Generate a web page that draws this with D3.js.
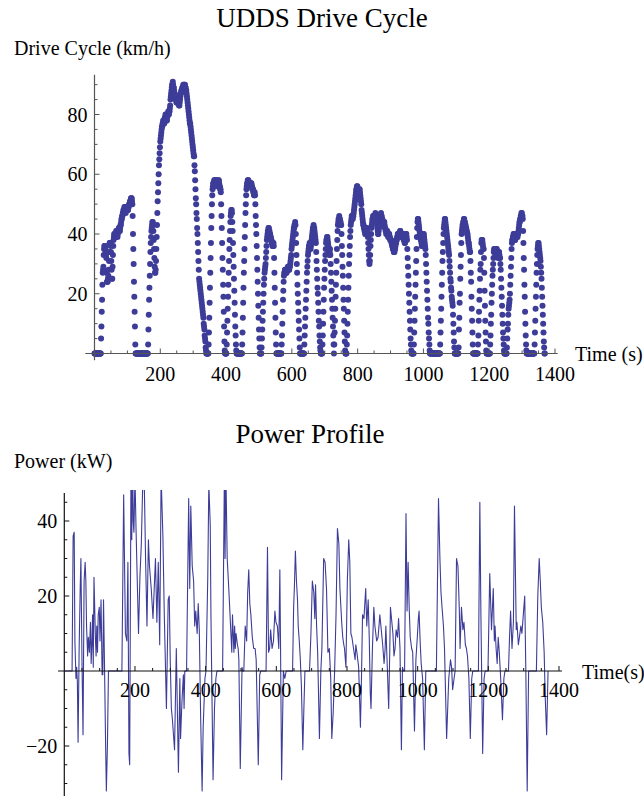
<!DOCTYPE html>
<html>
<head>
<meta charset="UTF-8">
<script src="https://cdn.jsdelivr.net/npm/d3@7"></script>
<style>
  body { margin: 0; background: #fff; }
  text { font-family: "Liberation Serif", "DejaVu Serif", serif; fill: #000; }
</style>
</head>
<body>
<div id="chart"></div>
<script>
// UDDS speed, one value per second (km/h), t = 0 .. 1369
var speedKmh = [
  0,0,0,0,0,0,0,0,0,0,0,0,0,0,0,0,0,0,0,0,
  5,9,14,18,23,27,28,29,33,35,36,36, 36,35,34,33,32,27,24, 24,24,25,26,28,31,34,37,
  37,37,36,34,31,28,25, 25,29,33,36,
  38,39,40,40,40,39,39,40,41,41,40,40,39,40,41,41,42,42,41,41,42,
  43,43,44,45,45,46,46,47,47,48,
  48,48,49,49,48,48,47,48,48,49,49,49,48,48,49,49,50,50,50,51,
  51,51,52,52,52,51,50, 46,40,35,30,24,19,14,9,3,
  0,0,0,0,0,0,0,0,0,0,0,0,0,0,0,0,0,0,0,0,0,0,0,0,0,0,0,0,0,0,0,0,0,0,0,0,0,0,
  3,8,13,18,22,26,30,34, 37,39,41,42,43,44,44,43,41,38, 35,32,29,27,27,28,
  31,35,39,43,47,51,54,57,60,63,65,67,69,71,72,73,74,75,76,
  76,77,77,78,78,77,77,78,79,79,80,80,79,78,78,79,80,80,81,80,80,81,81,
  82,83,85,86,87,88,89,90,90,91,
  90,89,89,88,87,87,86,86,85,85,84,84,84,85,85,86,85,84,83,83,84,85,86,87,
  87,88,88,88,89,89,89,90,90,89,89,90,90,89,89,88,
  88,87,86,85,84,83,82,81,80,79,78,77,77,76,75,74,73,72,71,70,69,68,67,66,
  66,63,61,58,55,52,50,47,45,42,40,37,34,31,28,25,
  24,23,22,21,20,19,18,17,16,15,14,13,12,10,9,8,6,5,4,2,1,0,
  0,0,0,0,0,0,
  3,7,12,17,22,27,32,37,42,46,50,53,55,56,57,57,
  57,58,58,57,57,58,58,58,57,57,56,56,57,57,58,58,57,56,56,55,55,54,
  50,46,42,37,32,28,23,19,14,9,4,1,0,
  0,0,0,0,
  3,7,11,15,19,23,27,31,35,38,41,44,46, 47,48,48,47, 44,41,37,33,29,25,21,17,13,9,6,3,1,0,
  0,0,0,0,0,0,0,0,0,0,0,0,0,0,0,0,
  3,7,12,17,22,27,31,35,39,43,47,50,53,55,56,
  57,57,58,58,58,57,57,57,56,56,56,57,57,57,56,56,55,55,55,54,54,53,53,54,53,
  50,46,43,40,36,32,28,24,20,16,12,8,5,2,0,
  0,0,0,0,
  2,5,8,11,14,17,20,23,25,27,28,29,30, 32,34,36,38,39,40,41,41,42,42,
  41,41,40,40,39,39,38,38,37,37,36,36,37,37,36, 32,27,22,17,12,7,3,0,
  0,0,0,0,0,0,0,0,0,0,0,0,0,0,0,
  3,6,10,14,18,21,24,26,27,
  27,28,28,28,27,27,27,28,28,28,29,29,28,28,28,29,29,30,
  31,32,33,35,36,37,38,39,40,41,42,42,43,43,44,
  43,40,37,33,30,27,23,20,17,14,11,8,5,2,0,
  0,0,0,0,0,0,0,0,0,0,0,0,
  3,6,9,12,15,18,21,24,27,29,31,33,34,35,36,
  36,37,37,36,35,36,37,38,39,40,41,42,42,43,42,42,41,40,39,38,37,
  34,31,28,25,22,20,17,14,11,9,6,4,2,1,0,
  0,0,0,0,
  3,6,10,14,18,22,25,28,31,33,35,37,38, 38,39,39,38,37,36,35,34,33,34,35,
  33,30,27,24,21,18,15,12,9,6,3,0,
  3,7,11,15,19,23,27,31,35,38,41,43, 44,45,45,46,45,45,44,44,43,43,
  40,36,33,29,26,22,18,15,11,7,4,1,
  0,0,0,0,
  3,6,10,14,18,22,26,30,33,36,39,41,43,44,45,46,
  46,45,45,46,46,47,48,49,50,51,52,53,54,55,55,56,56,55,
  55,55,54,54,55,55,54,53,52,51,50,48,47,46,45,
  44,43,43,42,42,41,41,40,40,41,41,42,42,41,40,39,37,35,33,31,30,31,33,36,38,40,42,43,44,45,
  45,46,46,46,45,45,46,46,47,46,46,45,44,43,42,41,40,40,41,42,43,44,45,46,46,47,46,46,45,45,
  44,44,43,43,44,44,43,42,42,41,41,40,40,41,41,40,40,39,39,40,40,39,39,38,38,
  38,38,37,37,36,36,35,35,35,34,34,34,35,35,36,37,37,38,38,39,39,40,40,40,39,39,40,40,41,41,
  40,40,39,39,40,40,40,39,39,38,38,38,37,37,38,39,40,40,39,38,
  35,32,29,26,23,20,17,14,11,8,5,3,1,0,
  0,0,0,0,0,0,
  3,7,11,15,19,23,27,31,35,39,42,44,
  45,45,44,43,42,41,40,40,39,38,38,37,36,36,37,38,39,40,40,39,38,37,36,35,
  33,30,27,24,21,18,15,12,10,7,5,3,1,0,
  0,0,0,0,0,0,0,0,0,0,0,0,0,0,0,0,0,0,0,0,0,0,0,0,0,0,0,0,0,0,
  3,7,11,15,19,23,27,31,34,37,40,42,
  43,44,45,45,44,43,42,41,40,39,38,37,36,35,34,33,
  31,29,27,25,24,22,21,19,18,17,16,13,10,7,4,2,0,
  0,0,0,0,0,0,0,0,0,0,0,
  2,8,12,17,20,25,29,33,37,40,
  41,42,43,43,44,44,45,45,44,44,43,43,42,42,41,41,40,40,39,38,37,37,36,35,34,34,
  31,27,24,19,15,11,7,3,0,
  0,0,0,0,0,0,0,0,0,0,0,0,0,0,
  3,6,11,14,18,21,25,28,30,34,37,38, 38,38,37,36,35,35, 32,27,21,16,11,7,4,1,0,
  0,0,0,0,0,0,0,0,0,0,
  3,6,10,13,17,20,23,26,28,30,32,34,
  35,35,34,34,33,33,34,35,35,34,33,33,32,33,34,34,33,32,32,
  30,28,25,22,19,16,13,10,7,5,3,1,0,
  0,0,0,0,0,0,0,
  2,5,8,10,13,15,16,17,18,20,23,26,29,32,35,
  37,38,38,39,39,40,40,39,39,38,38,39,39,40,40,40,39,39,40,40,41,42,43,44,
  44,45,45,46,46,47,47,46,46,45,
  41,37,32,28,23,19,14,10,6,3,1,0,
  0,0,0,0,0,0,0,0,0,0,0,0,0,0,0,0,0,0,0,0,0,0,0,
  3,7,11,15,19,23,27,30,33,35,36,37, 37,36,35,34,33,32,31,
  29,27,25,22,19,16,13,10,7,4,2,0,0
];

// power profile, vertices (time in s, power in kW)
var powerTime = [
  0,22,25,28,30,33,35,37,39,42,45,47,50,53,56,59,61,63,66,68,71,74,76,78,80,82,84,86,88,90,
  92,94,96,99,101,104,107,109,111,114,117,119,122,125,163,
  168,173,177,180,183,185,189,191,193,195,197,200,203,205,210,214,218,222,226,230,234,238,241,246,251,258,262,266,270,274,
  279,283,289,294,297,300,303,306,312,317,323,327,329,333,337,339,341,346,
  352,355,358,362,366,369,372,376,379,382,386,390,393,398,401,
  406,409,413,415,418,421,425,429,432,448,
  453,455,457,461,466,469,472,474,476,480,482,484,486,490,492,494,498,503,505,508,
  512,516,519,522,525,528,532,536,540,543,549,553,556,571,
  575,578,581,584,588,592,596,599,603,607,610,612,615,620,624,628,646,
  649,651,654,657,660,662,665,668,671,675,678,681,694,
  698,702,706,709,711,714,717,722,726,
  729,734,738,742,744,746,750,754,757,761,765,
  769,773,777,780,785,788,791,793,797,801,805,808,811,814,817,820,823,825,828,833,838,841,844,848,853,856,860,863,866,868,
  872,876,879,884,888,893,897,901,905,908,910,913,918,921,923,926,930,933,936,939,943,946,950,954,957,960,963,
  967,970,973,976,979,983,986,991,995,999,1002,1004,1007,1010,1014,1019,1023,1053,
  1059,1063,1066,1069,1073,1076,1082,1088,1093,1096,1099,1103,1106,
  1110,1114,1118,1120,1124,1128,1131,1135,1138,1141,1145,1149,1153,1156,1172,
  1176,1179,1184,1188,1191,1199,
  1204,1209,1214,1217,1219,1222,1225,1228,1231,1235,1240,1244,1247,1257,
  1260,1263,1267,1271,1274,1277,1279,1281,1285,1288,1292,1295,1299,1303,1306,1310,1314,1336,
  1340,1344,1347,1350,1354,1358,1361,1365,1369
];
var powerKw = [
  0,0,36,37,8,-2,1,-3,-19,6,22,30,3,-17,24,29,24,12,4,9,5,13,2,7,15,1,25,17,9,4,
  12,5,15,17,8,19,-1,-1,19,0,-20,-32,-20,0,0,
  47,10,8,29,-22,-25,60,35,62,40,37,52,38,30,10,25,34,50,52,30,12,35,28,22,14,30,13,29,7,52,
  36,15,-10,19,20,2,-10,-13,-21,6,-27,-2,-18,-8,-1,-10,0,0,
  46,22,44,28,24,12,16,10,18,11,-13,-32,-15,-2,0,
  25,50,39,15,-7,-29,-10,-2,0,0,
  52,30,55,30,21,15,9,5,15,5,12,6,10,7,6,3,-26,1,0,0,
  12,8,21,27,18,15,9,6,6,3,-25,-1,0,0,
  33,5,6,11,6,8,16,13,12,6,27,6,-29,0,-2,0,0,
  17,22,32,24,19,12,8,3,-4,-21,-10,0,0,
  10,24,21,14,23,12,5,-18,0,
  6,30,29,22,14,5,6,-2,-18,-11,0,
  15,38,34,22,13,9,7,6,1,24,35,29,10,9,7,5,3,7,5,1,-15,-2,15,14,22,12,19,9,-6,-10,
  6,17,12,8,9,15,11,7,2,6,12,4,-10,5,17,14,10,4,6,11,9,14,6,-21,1,0,0,
  42,16,29,17,9,6,5,-16,3,9,14,16,8,2,-2,-21,0,0,
  46,30,21,17,12,6,-18,-2,3,1,-5,-2,0,
  30,28,16,6,17,11,13,7,6,4,-2,-18,-2,0,0,
  45,15,-22,-2,0,0,
  26,11,22,8,12,6,2,9,5,-2,-13,-2,0,0,
  9,16,6,13,44,24,11,13,7,9,12,10,15,20,1,-32,0,0,
  20,30,24,17,13,5,-7,-17,0
];

var timeTicks = [200, 400, 600, 800, 1000, 1200, 1400];
var speedTicks = [20, 40, 60, 80];
var powerTicks = [-20, 20, 40];

var W = 644, H = 796;
var blue = "#3d3d99";

var svg = d3.select("#chart").append("svg")
    .attr("width", W)
    .attr("height", H);

// ---------- top panel: drive cycle ----------
var xTop = d3.scaleLinear().domain([0, 1400]).range([94.5, 555]);
var yTop = d3.scaleLinear().domain([0, 80]).range([353.5, 114.5]);
var gTop = svg.append("g");

gTop.append("text")
    .attr("x", 322).attr("y", 27)
    .attr("text-anchor", "middle")
    .attr("font-size", "27px")
    .text("UDDS Drive Cycle");

gTop.append("text")
    .attr("x", 14).attr("y", 55)
    .attr("font-size", "20px")
    .text("Drive Cycle (km/h)");

// data first, axes drawn on top
gTop.selectAll("circle")
    .data(speedKmh)
    .join("circle")
    .attr("cx", function(d, i) { return xTop(i); })
    .attr("cy", function(d) { return yTop(d); })
    .attr("r", 3)
    .attr("fill", blue);

var axisTop = "#555";
gTop.append("line")
    .attr("x1", xTop(-28)).attr("x2", xTop(1408))
    .attr("y1", yTop(0)).attr("y2", yTop(0))
    .attr("stroke", axisTop).attr("stroke-width", 1.2);
gTop.append("line")
    .attr("x1", xTop(0)).attr("x2", xTop(0))
    .attr("y1", yTop(-2.3)).attr("y2", yTop(93.3))
    .attr("stroke", axisTop).attr("stroke-width", 1.2);

gTop.selectAll("line.xt")
    .data(d3.range(50, 1401, 50))
    .join("line").attr("class", "xt")
    .attr("x1", function(d) { return xTop(d); })
    .attr("x2", function(d) { return xTop(d); })
    .attr("y1", yTop(0))
    .attr("y2", function(d) { return yTop(0) - (d % 200 == 0 ? 5 : 3); })
    .attr("stroke", axisTop);

gTop.selectAll("line.yt")
    .data(d3.range(5, 91, 5))
    .join("line").attr("class", "yt")
    .attr("x1", xTop(0))
    .attr("x2", function(d) { return xTop(0) + (d % 20 == 0 ? 5 : 3); })
    .attr("y1", function(d) { return yTop(d); })
    .attr("y2", function(d) { return yTop(d); })
    .attr("stroke", axisTop);

gTop.selectAll("text.xl")
    .data(timeTicks)
    .join("text").attr("class", "xl")
    .attr("x", function(d) { return xTop(d); })
    .attr("y", 381)
    .attr("text-anchor", "middle")
    .attr("font-size", "20px")
    .text(function(d) { return d; });

gTop.selectAll("text.yl")
    .data(speedTicks)
    .join("text").attr("class", "yl")
    .attr("x", xTop(0) - 7)
    .attr("y", function(d) { return yTop(d); })
    .attr("dy", "0.35em")
    .attr("text-anchor", "end")
    .attr("font-size", "20px")
    .text(function(d) { return d; });

gTop.append("text")
    .attr("x", 575).attr("y", 361)
    .attr("font-size", "20px")
    .text("Time (s)");

// ---------- bottom panel: power profile ----------
var xBot = d3.scaleLinear().domain([0, 1400]).range([64.3, 559]);
var yBot = d3.scaleLinear().domain([0, 20]).range([671, 596]);
var gBot = svg.append("g");

gBot.append("text")
    .attr("x", 310).attr("y", 443)
    .attr("text-anchor", "middle")
    .attr("font-size", "27px")
    .text("Power Profile");

gBot.append("text")
    .attr("x", 14).attr("y", 468)
    .attr("font-size", "20px")
    .text("Power (kW)");

svg.append("clipPath").attr("id", "clipP")
    .append("rect")
    .attr("x", 0).attr("y", yBot(48.3))
    .attr("width", W).attr("height", H - yBot(48.3));

var line = d3.line()
    .x(function(i) { return xBot(powerTime[i]); })
    .y(function(i) { return yBot(powerKw[i]); });

gBot.append("path")
    .attr("d", line(d3.range(powerTime.length)))
    .attr("clip-path", "url(#clipP)")
    .attr("fill", "none")
    .attr("stroke", blue)
    .attr("stroke-width", 1.1)
    .attr("stroke-linejoin", "round");

var axisBot = "#111";
gBot.append("line")
    .attr("x1", 58).attr("x2", 562)
    .attr("y1", yBot(0)).attr("y2", yBot(0))
    .attr("stroke", axisBot).attr("stroke-width", 1.2);
gBot.append("line")
    .attr("x1", xBot(0)).attr("x2", xBot(0))
    .attr("y1", 493).attr("y2", H)
    .attr("stroke", axisBot).attr("stroke-width", 1.2);

gBot.selectAll("line.xt")
    .data(d3.range(50, 1401, 50))
    .join("line").attr("class", "xt")
    .attr("x1", function(d) { return xBot(d); })
    .attr("x2", function(d) { return xBot(d); })
    .attr("y1", yBot(0))
    .attr("y2", function(d) { return yBot(0) - (d % 200 == 0 ? 5 : 3); })
    .attr("stroke", axisBot);

gBot.selectAll("line.yt")
    .data(d3.range(-30, 46, 5).filter(function(d) { return d != 0; }))
    .join("line").attr("class", "yt")
    .attr("x1", xBot(0))
    .attr("x2", function(d) { return xBot(0) + (d % 20 == 0 ? 5 : 3); })
    .attr("y1", function(d) { return yBot(d); })
    .attr("y2", function(d) { return yBot(d); })
    .attr("stroke", axisBot);

gBot.selectAll("text.xl")
    .data(timeTicks)
    .join("text").attr("class", "xl")
    .attr("x", function(d) { return xBot(d); })
    .attr("y", 697)
    .attr("text-anchor", "middle")
    .attr("font-size", "20px")
    .text(function(d) { return d; });

gBot.selectAll("text.yl")
    .data(powerTicks)
    .join("text").attr("class", "yl")
    .attr("x", xBot(0) - 7)
    .attr("y", function(d) { return yBot(d); })
    .attr("dy", "0.35em")
    .attr("text-anchor", "end")
    .attr("font-size", "20px")
    .text(function(d) { return d < 0 ? "\u2212" + Math.abs(d) : d; });

gBot.append("text")
    .attr("x", 582).attr("y", 679)
    .attr("font-size", "20px")
    .text("Time(s)");
</script>
</body>
</html>
